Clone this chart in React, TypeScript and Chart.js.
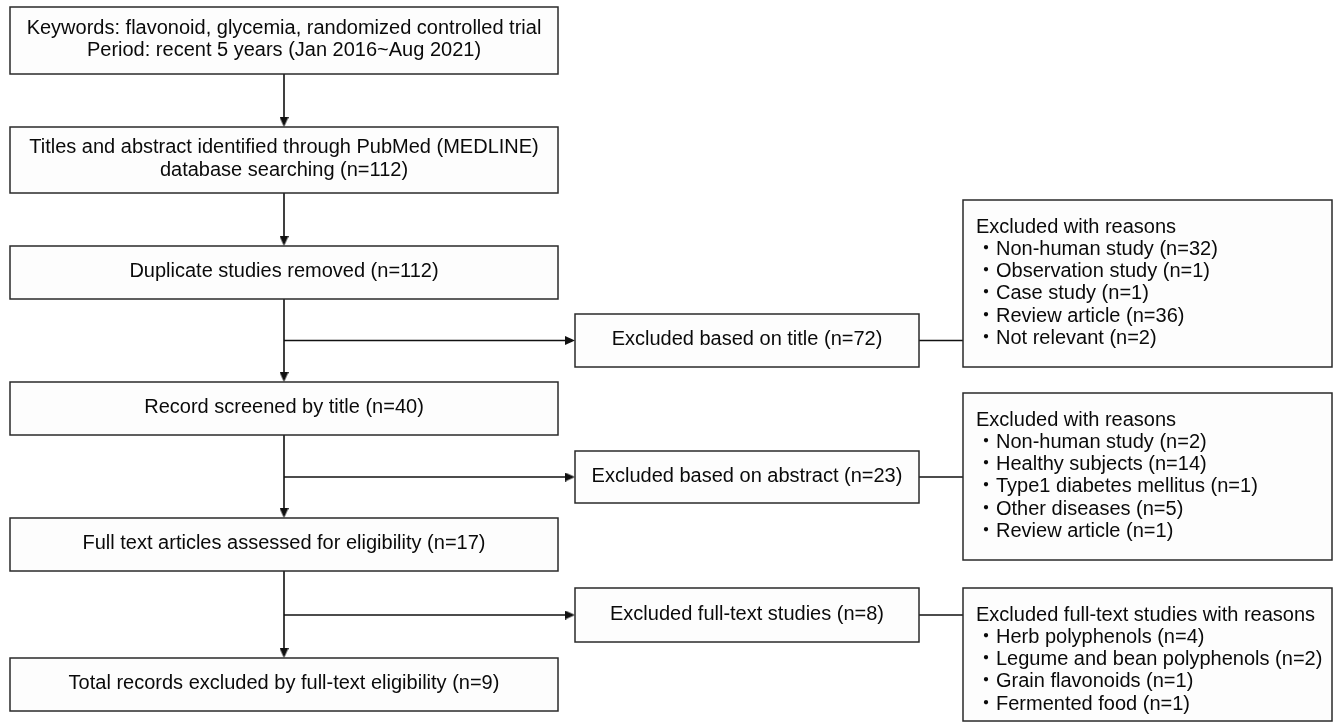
import React, { useEffect, useRef } from "react";
import { Chart, registerables } from "chart.js";

Chart.register(...registerables);

// ---------------- data (text content) ----------------
const stepLabels: string[][] = [
  ["Keywords: flavonoid, glycemia, randomized controlled trial", "Period: recent 5 years (Jan 2016~Aug 2021)"],
  ["Titles and abstract identified through PubMed (MEDLINE)", "database searching (n=112)"],
  ["Duplicate studies removed (n=112)"],
  ["Record screened by title (n=40)"],
  ["Full text articles assessed for eligibility (n=17)"],
  ["Total records excluded by full-text eligibility (n=9)"],
];

const excludedLabels: string[] = [
  "Excluded based on title (n=72)",
  "Excluded based on abstract (n=23)",
  "Excluded full-text studies (n=8)",
];

const reasonTitles: string[] = [
  "Excluded with reasons",
  "Excluded with reasons",
  "Excluded full-text studies with reasons",
];

const titleReasons: string[] = [
  "Non-human study (n=32)",
  "Observation study (n=1)",
  "Case study (n=1)",
  "Review article (n=36)",
  "Not relevant (n=2)",
];

const abstractReasons: string[] = [
  "Non-human study (n=2)",
  "Healthy subjects (n=14)",
  "Type1 diabetes mellitus (n=1)",
  "Other diseases (n=5)",
  "Review article (n=1)",
];

const fullTextReasons: string[] = [
  "Herb polyphenols (n=4)",
  "Legume and bean polyphenols (n=2)",
  "Grain flavonoids (n=1)",
  "Fermented food (n=1)",
];

const reasonLists: string[][] = [titleReasons, abstractReasons, fullTextReasons];

// ---------------- layout (diagram coordinate frame) ----------------
const FRAME_W = 1335;
const FRAME_H = 724;
const mainX: [number, number] = [10, 558];
const mainY: [number, number][] = [
  [7, 74],
  [127, 193],
  [246, 299],
  [382, 435],
  [518, 571],
  [658, 711],
];
const spineX = 284;
const sideX: [number, number] = [575, 919];
const sideY: [number, number][] = [
  [314, 367],
  [451, 503],
  [588, 642],
];
const reasonX: [number, number] = [963, 1332];
const reasonY: [number, number][] = [
  [200, 367],
  [393, 560],
  [588, 721],
];

const FONT = '20px "Liberation Sans", Arial, "Noto Sans CJK JP", sans-serif';
const LINE_COLOR = "#111";
const BOX_STROKE = "#2a2a2a";
const ARROW_W = 9;
const ARROW_H = 10;

type Pt = { x: number; y: number };

function makeArrowHead(): HTMLCanvasElement {
  const c = document.createElement("canvas");
  c.width = ARROW_W;
  c.height = ARROW_H;
  const g = c.getContext("2d")!;
  g.fillStyle = LINE_COLOR;
  g.beginPath();
  g.moveTo(ARROW_W / 2, 0);
  g.lineTo(ARROW_W, ARROW_H);
  g.lineTo(0, ARROW_H);
  g.closePath();
  g.fill();
  return c;
}

function buildDatasets() {
  const lines: Pt[][] = [];
  const arrows: Pt[] = [];
  const rotations: number[] = [];
  const half = ARROW_H / 2;
  // vertical spine between main boxes
  for (let i = 0; i < mainY.length - 1; i++) {
    const y0 = mainY[i][1];
    const y1 = mainY[i + 1][0];
    lines.push([
      { x: spineX, y: y0 },
      { x: spineX, y: y1 - half },
    ]);
    arrows.push({ x: spineX, y: y1 - half });
    rotations.push(180);
  }
  // branches to side boxes and reason boxes
  for (let i = 0; i < sideY.length; i++) {
    const yc = (sideY[i][0] + sideY[i][1]) / 2;
    lines.push([
      { x: spineX, y: yc },
      { x: sideX[0] - half, y: yc },
    ]);
    arrows.push({ x: sideX[0] - half, y: yc });
    rotations.push(90);
    lines.push([
      { x: sideX[1], y: yc },
      { x: reasonX[0], y: yc },
    ]);
  }
  const datasets: any[] = lines.map((pts) => ({
    type: "scatter",
    data: pts,
    showLine: true,
    borderColor: LINE_COLOR,
    borderWidth: 1.6,
    pointRadius: 0,
    pointHoverRadius: 0,
    fill: false,
    clip: false,
  }));
  datasets.push({
    type: "scatter",
    data: arrows,
    showLine: false,
    pointStyle: makeArrowHead(),
    rotation: rotations,
    pointRadius: ARROW_H / 2,
    pointHoverRadius: ARROW_H / 2,
    backgroundColor: LINE_COLOR,
    borderColor: LINE_COLOR,
    clip: false,
  });
  return datasets;
}

const boxPlugin = {
  id: "flowBoxes",
  afterDatasetsDraw(chart: any) {
    const ctx: CanvasRenderingContext2D = chart.ctx;
    const xs = chart.scales.x;
    const ys = chart.scales.y;
    const px = (v: number) => xs.getPixelForValue(v);
    const py = (v: number) => ys.getPixelForValue(v);

    const rect = (x0: number, x1: number, y0: number, y1: number) => {
      const l = px(x0), r = px(x1), t = py(y0), b = py(y1);
      ctx.save();
      ctx.fillStyle = "#fdfdfd";
      ctx.fillRect(l, t, r - l, b - t);
      ctx.strokeStyle = BOX_STROKE;
      ctx.lineWidth = 1.5;
      ctx.strokeRect(l, t, r - l, b - t);
      ctx.restore();
    };

    ctx.save();
    ctx.textBaseline = "middle";

    // main boxes
    stepLabels.forEach((lines, i) => {
      const [y0, y1] = mainY[i];
      rect(mainX[0], mainX[1], y0, y1);
      const cy = (y0 + y1) / 2 - 1;
      const lh = 22.5;
      const start = cy - ((lines.length - 1) * lh) / 2;
      ctx.font = FONT;
      ctx.fillStyle = "#0a0a0a";
      ctx.textAlign = "center";
      lines.forEach((t, k) => {
        ctx.fillText(t, px((mainX[0] + mainX[1]) / 2), py(start + k * lh));
      });
    });

    // side boxes
    excludedLabels.forEach((t, i) => {
      const [y0, y1] = sideY[i];
      rect(sideX[0], sideX[1], y0, y1);
      ctx.font = FONT;
      ctx.fillStyle = "#0a0a0a";
      ctx.textAlign = "center";
      ctx.fillText(t, px((sideX[0] + sideX[1]) / 2), py((y0 + y1) / 2 - 1));
    });

    // reason boxes
    reasonTitles.forEach((title, i) => {
      const [y0, y1] = reasonY[i];
      rect(reasonX[0], reasonX[1], y0, y1);
      ctx.font = FONT;
      ctx.fillStyle = "#0a0a0a";
      ctx.textAlign = "left";
      const lh = 22.3;
      const x0 = reasonX[0] + 13;
      ctx.fillText(title, px(x0), py(y0 + 27));
      reasonLists[i].forEach((item, k) => {
        ctx.fillText("\u30FB" + item, px(x0), py(y0 + 27 + (k + 1) * lh));
      });
    });
    ctx.restore();
  },
};

export default function App() {
  const canvasRef = useRef<HTMLCanvasElement | null>(null);

  useEffect(() => {
    const canvas = canvasRef.current;
    if (!canvas) return;
    const chart = new Chart(canvas, {
      type: "scatter",
      data: { datasets: buildDatasets() },
      options: {
        animation: false,
        responsive: false,
        maintainAspectRatio: false,
        events: [],
        layout: { padding: 0, autoPadding: false },
        plugins: {
          legend: { display: false },
          tooltip: { enabled: false },
          title: { display: false },
        },
        scales: {
          x: { type: "linear", min: 0, max: FRAME_W, display: false },
          y: { type: "linear", min: 0, max: FRAME_H, reverse: true, display: false },
        },
      } as any,
      plugins: [boxPlugin],
    });
    return () => chart.destroy();
  }, []);

  return (
    <div style={{ position: "fixed", left: 0, top: 0, width: FRAME_W, height: FRAME_H, background: "#fff" }}>
      <canvas ref={canvasRef} width={FRAME_W} height={FRAME_H} style={{ width: FRAME_W, height: FRAME_H }} />
    </div>
  );
}
